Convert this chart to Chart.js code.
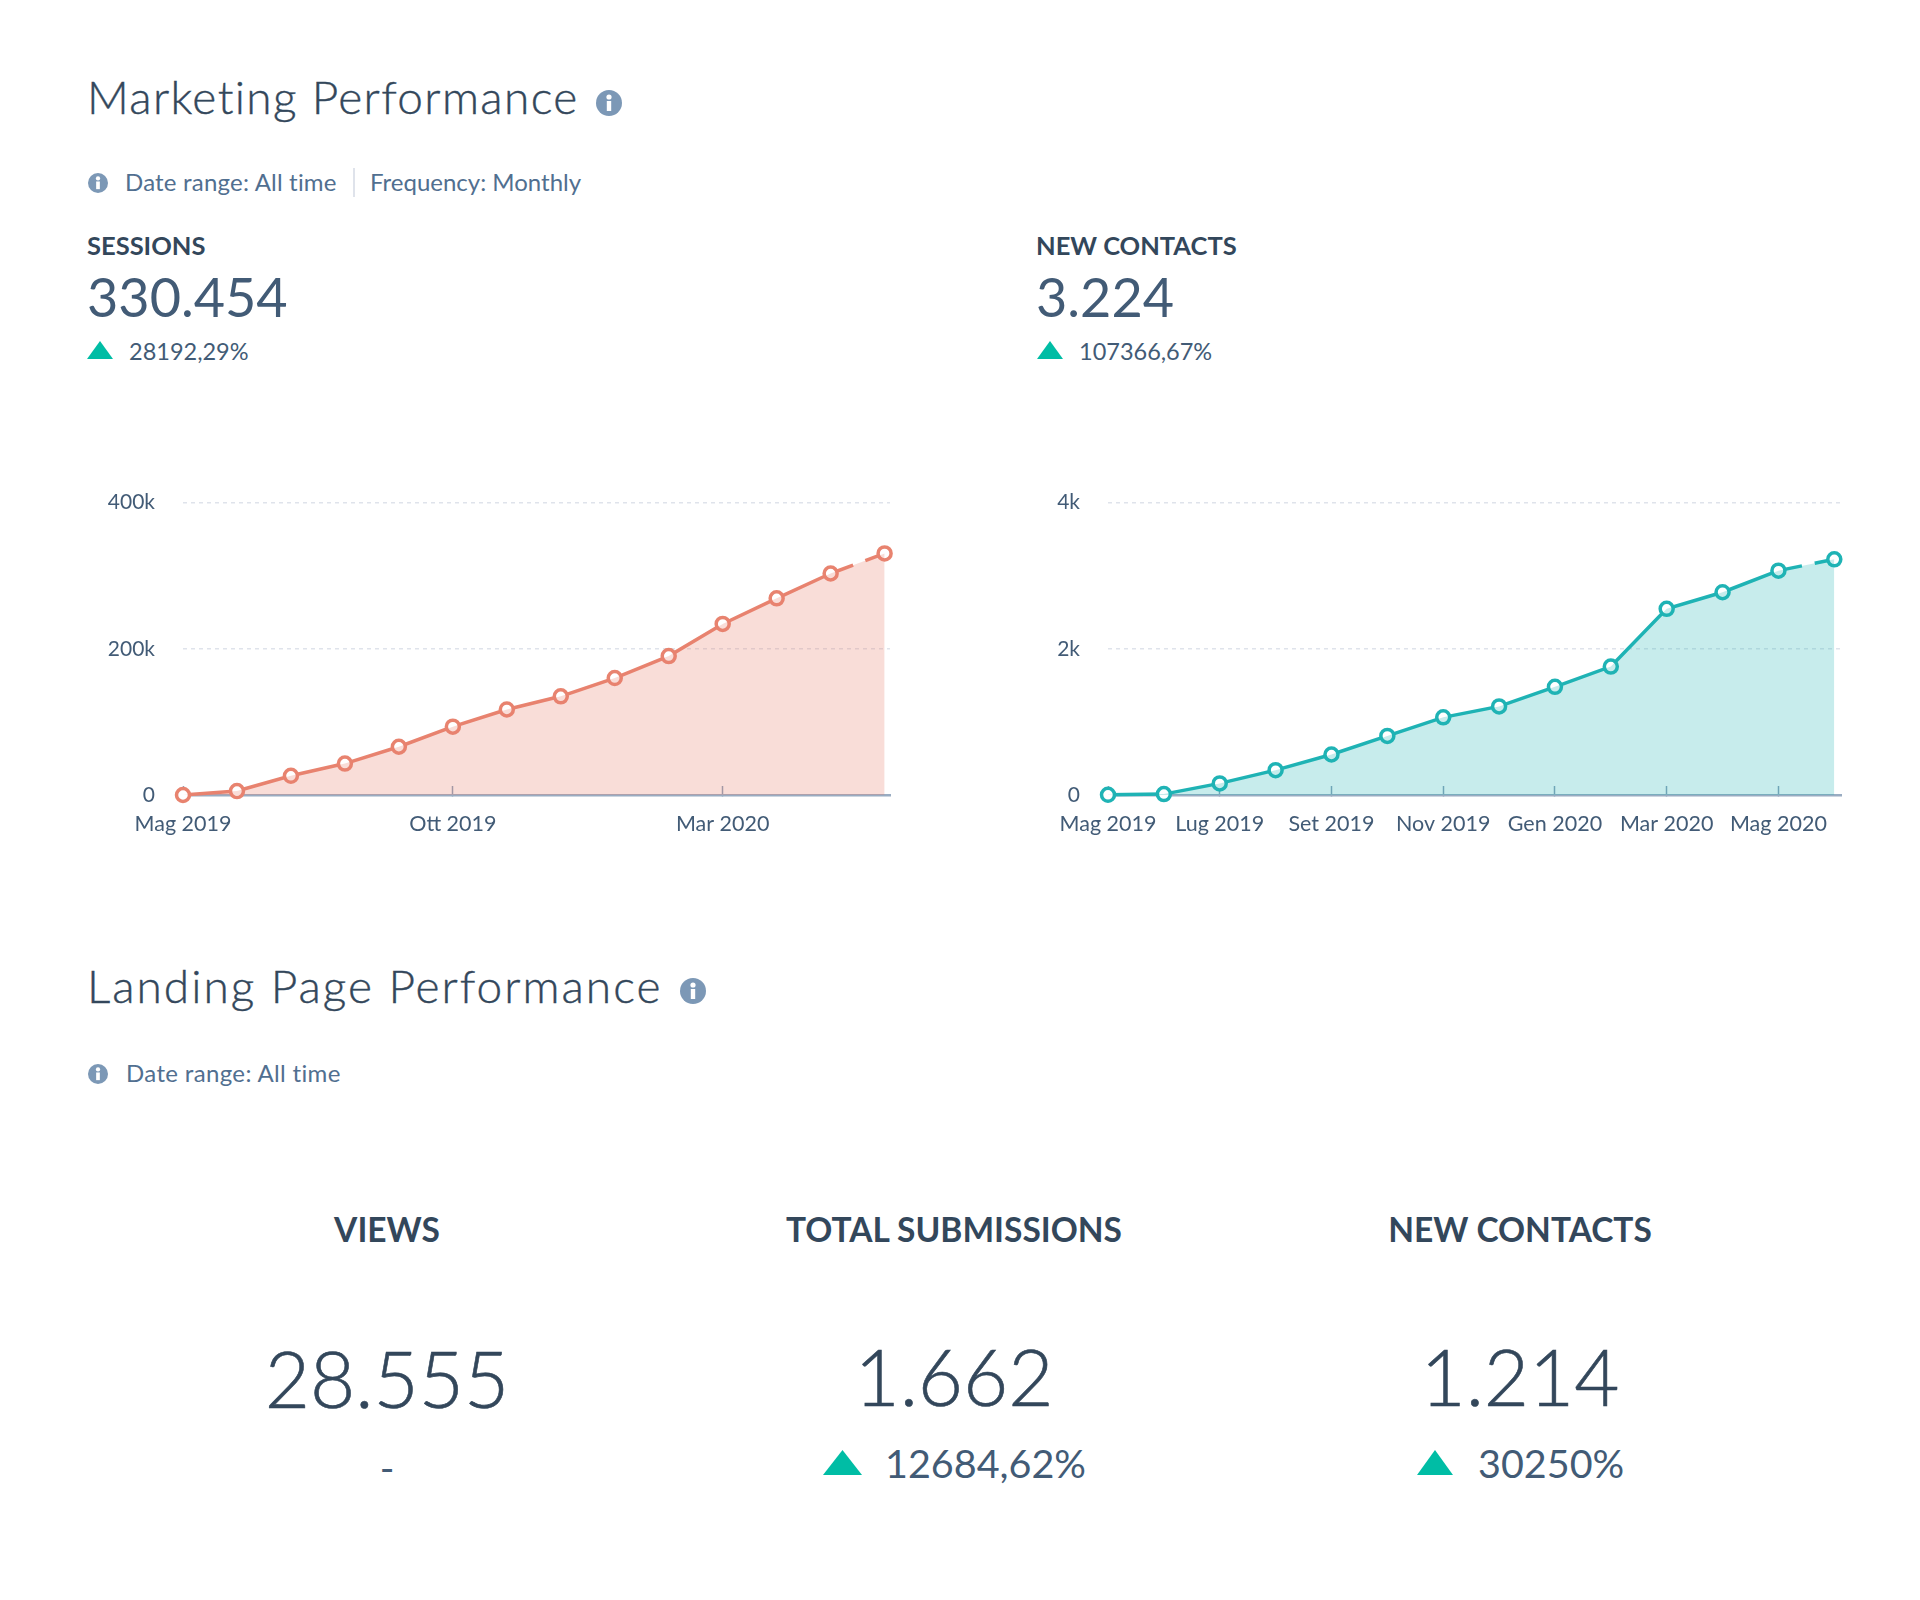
<!DOCTYPE html>
<html>
<head>
<meta charset="utf-8">
<script src="https://cdn.jsdelivr.net/npm/chart.js@4"></script>
<style>
  html, body { margin: 0; padding: 0; background: #fff; }
  body { position: relative; width: 1920px; height: 1600px; overflow: hidden; font-family: Lato, sans-serif; color: #33475b; }
  .t { position: absolute; white-space: nowrap; transform: translateY(-50%); }
  .c { transform: translate(-50%, -50%); }
  .title { font-size: 46px; font-weight: 300; left: 87px; -webkit-text-stroke: 0.4px #33475b; }
  .meta { font-size: 24px; color: #516f90; }
  .label { font-size: 25.5px; font-weight: 700; left: 87px; }
  .big { font-size: 54px; font-weight: 400; color: #425b76; }
  .delta { font-size: 23.5px; color: #425b76; }
  .head { font-size: 33.5px; font-weight: 700; }
  .num { font-size: 78px; font-weight: 300; -webkit-text-stroke: 0.6px #33475b; }
  .delta2 { font-size: 39.5px; color: #425b76; }
  canvas { position: absolute; }
  svg { position: absolute; }
</style>
</head>
<body>
<div class="t title" style="top:96px;letter-spacing:1.36px">Marketing Performance</div>
<svg style="left:596px;top:90px" width="26" height="26" viewBox="0 0 26 26"><circle cx="13" cy="13" r="13" fill="#7c98b6"/><circle cx="13" cy="7" r="2.6" fill="#fff"/><rect x="10.8" y="11" width="4.4" height="10" fill="#fff"/></svg>
<svg style="left:88px;top:173px" width="20" height="20" viewBox="0 0 26 26"><circle cx="13" cy="13" r="13" fill="#7c98b6"/><circle cx="13" cy="7" r="2.8" fill="#fff"/><rect x="10.6" y="11" width="4.8" height="10" fill="#fff"/></svg>
<div class="t meta" style="left:125px;top:181px;letter-spacing:0.2px">Date range: All time</div>
<div style="position:absolute;left:353px;top:168px;width:2px;height:29px;background:#dfe3eb"></div>
<div class="t meta" style="left:370px;top:181px">Frequency: Monthly</div>

<div class="t label" style="top:245px">SESSIONS</div>
<div class="t big" style="left:87px;top:296px">330.454</div>
<svg style="left:87px;top:341px" width="26" height="18" viewBox="0 0 26 18"><polygon points="13,0 26,18 0,18" fill="#00bda5"/></svg>
<div class="t delta" style="left:129px;top:351px">28192,29%</div>

<div class="t label" style="left:1036px;top:245px">NEW CONTACTS</div>
<div class="t big" style="left:1036px;top:296px">3.224</div>
<svg style="left:1037px;top:341px" width="26" height="18" viewBox="0 0 26 18"><polygon points="13,0 26,18 0,18" fill="#00bda5"/></svg>
<div class="t delta" style="left:1079px;top:351px">107366,67%</div>

<canvas id="sessionsChart" width="860" height="408" style="left:60px;top:462px"></canvas>
<canvas id="contactsChart" width="860" height="408" style="left:1020px;top:462px"></canvas>

<div class="t title" style="top:985px;letter-spacing:2px">Landing Page Performance</div>
<svg style="left:680px;top:978px" width="26" height="26" viewBox="0 0 26 26"><circle cx="13" cy="13" r="13" fill="#7c98b6"/><circle cx="13" cy="7" r="2.6" fill="#fff"/><rect x="10.8" y="11" width="4.4" height="10" fill="#fff"/></svg>
<svg style="left:88px;top:1064px" width="20" height="20" viewBox="0 0 26 26"><circle cx="13" cy="13" r="13" fill="#7c98b6"/><circle cx="13" cy="7" r="2.8" fill="#fff"/><rect x="10.6" y="11" width="4.8" height="10" fill="#fff"/></svg>
<div class="t meta" style="left:126px;top:1072px;letter-spacing:0.35px">Date range: All time</div>

<div class="t c head" style="left:387px;top:1229px">VIEWS</div>
<div class="t c head" style="left:954px;top:1229px">TOTAL SUBMISSIONS</div>
<div class="t c head" style="left:1520px;top:1229px">NEW CONTACTS</div>
<div class="t c num" style="left:387px;top:1378px">28.555</div>
<div class="t c num" style="left:954px;top:1376px">1.662</div>
<div class="t c num" style="left:1520px;top:1376px">1.214</div>
<div class="t c delta2" style="left:387px;top:1466px">-</div>
<svg style="left:823px;top:1450px" width="39" height="25" viewBox="0 0 39 25"><polygon points="19.5,0 39,25 0,25" fill="#00bda5"/></svg>
<div class="t delta2" style="left:885px;top:1462px">12684,62%</div>
<svg style="left:1417px;top:1450px" width="36" height="25" viewBox="0 0 36 25"><polygon points="18,0 36,25 0,25" fill="#00bda5"/></svg>
<div class="t delta2" style="left:1478px;top:1462px">30250%</div>

<script>
const months = ['Mag 2019','Giu 2019','Lug 2019','Ago 2019','Set 2019','Ott 2019','Nov 2019','Dic 2019','Gen 2020','Feb 2020','Mar 2020','Apr 2020','Mag 2020','Giu 2020'];
const sessions = [0, 5400, 26300, 43000, 66000, 93500, 117000, 135000, 160000, 190000, 234000, 269000, 303000, 330454];
const newContacts = [3, 12, 159, 340, 554, 808, 1062, 1212, 1480, 1757, 2547, 2774, 3069, 3224];
const sessionsTicks = [0, 200000, 400000];
const contactsTicks = [0, 2000, 4000];

function kLabel(v) {
  return v === 0 ? '0' : (v / 1000) + 'k';
}

function drawChart(id, values, yTicks, xStep, xMax, lineColor, fillColor, yWidth, rightPad) {
  const last = values.length - 1;
  const points = values.map((v, i) => ({ x: i, y: v }));
  new Chart(document.getElementById(id).getContext('2d'), {
    type: 'line',
    data: {
      datasets: [
        // area on its own so the dashed last segment leaves no seam in the fill
        { data: points, borderWidth: 0, backgroundColor: fillColor, fill: 'origin', pointRadius: 0 },
        {
          data: points,
          borderColor: lineColor,
          borderWidth: 3.5,
          fill: false,
          tension: 0,
          clip: false,
          pointBackgroundColor: '#fff',
          pointBorderColor: lineColor,
          pointBorderWidth: 3.5,
          pointRadius: 6.5,
          segment: {
            borderDash: ctx => ctx.p1DataIndex === last ? [24, 13] : undefined
          }
        }
      ]
    },
    options: {
      responsive: false,
      animation: false,
      layout: { padding: { top: 22, right: rightPad, bottom: 0, left: 0 } },
      plugins: { legend: { display: false }, tooltip: { enabled: false } },
      scales: {
        x: {
          type: 'linear',
          min: 0,
          max: xMax,
          afterFit: s => { s.height = 75; },
          border: { color: '#99acc2', width: 2.5 },
          grid: { drawOnChartArea: false, drawTicks: true, tickLength: -9, tickColor: '#8aa0b8', tickWidth: 1.5 },
          ticks: {
            stepSize: xStep,
            includeBounds: false,
            autoSkip: false,
            maxRotation: 0,
            padding: 25,
            color: '#425b76',
            font: { family: 'Lato', size: 21.5 },
            callback: v => months[v]
          }
        },
        y: {
          min: yTicks[0],
          max: yTicks[yTicks.length - 1],
          afterFit: s => { s.width = yWidth; },
          border: { display: false, dash: [4, 4] },
          grid: {
            drawTicks: false,
            color: c => c.tick.value === 0 ? 'rgba(0,0,0,0)' : '#dfe3eb',
            lineWidth: 1.5
          },
          ticks: {
            stepSize: yTicks[1] - yTicks[0],
            padding: 28,
            color: '#425b76',
            font: { family: 'Lato', size: 21 },
            callback: kLabel
          }
        }
      }
    }
  });
}

drawChart('sessionsChart', sessions, sessionsTicks, 5, 13.1, '#e8836f', 'rgba(232,131,111,0.27)', 123, 30);
drawChart('contactsChart', newContacts, contactsTicks, 2, 13.12, '#1fb3b5', 'rgba(31,179,181,0.25)', 88, 39);
</script>
</body>
</html>
